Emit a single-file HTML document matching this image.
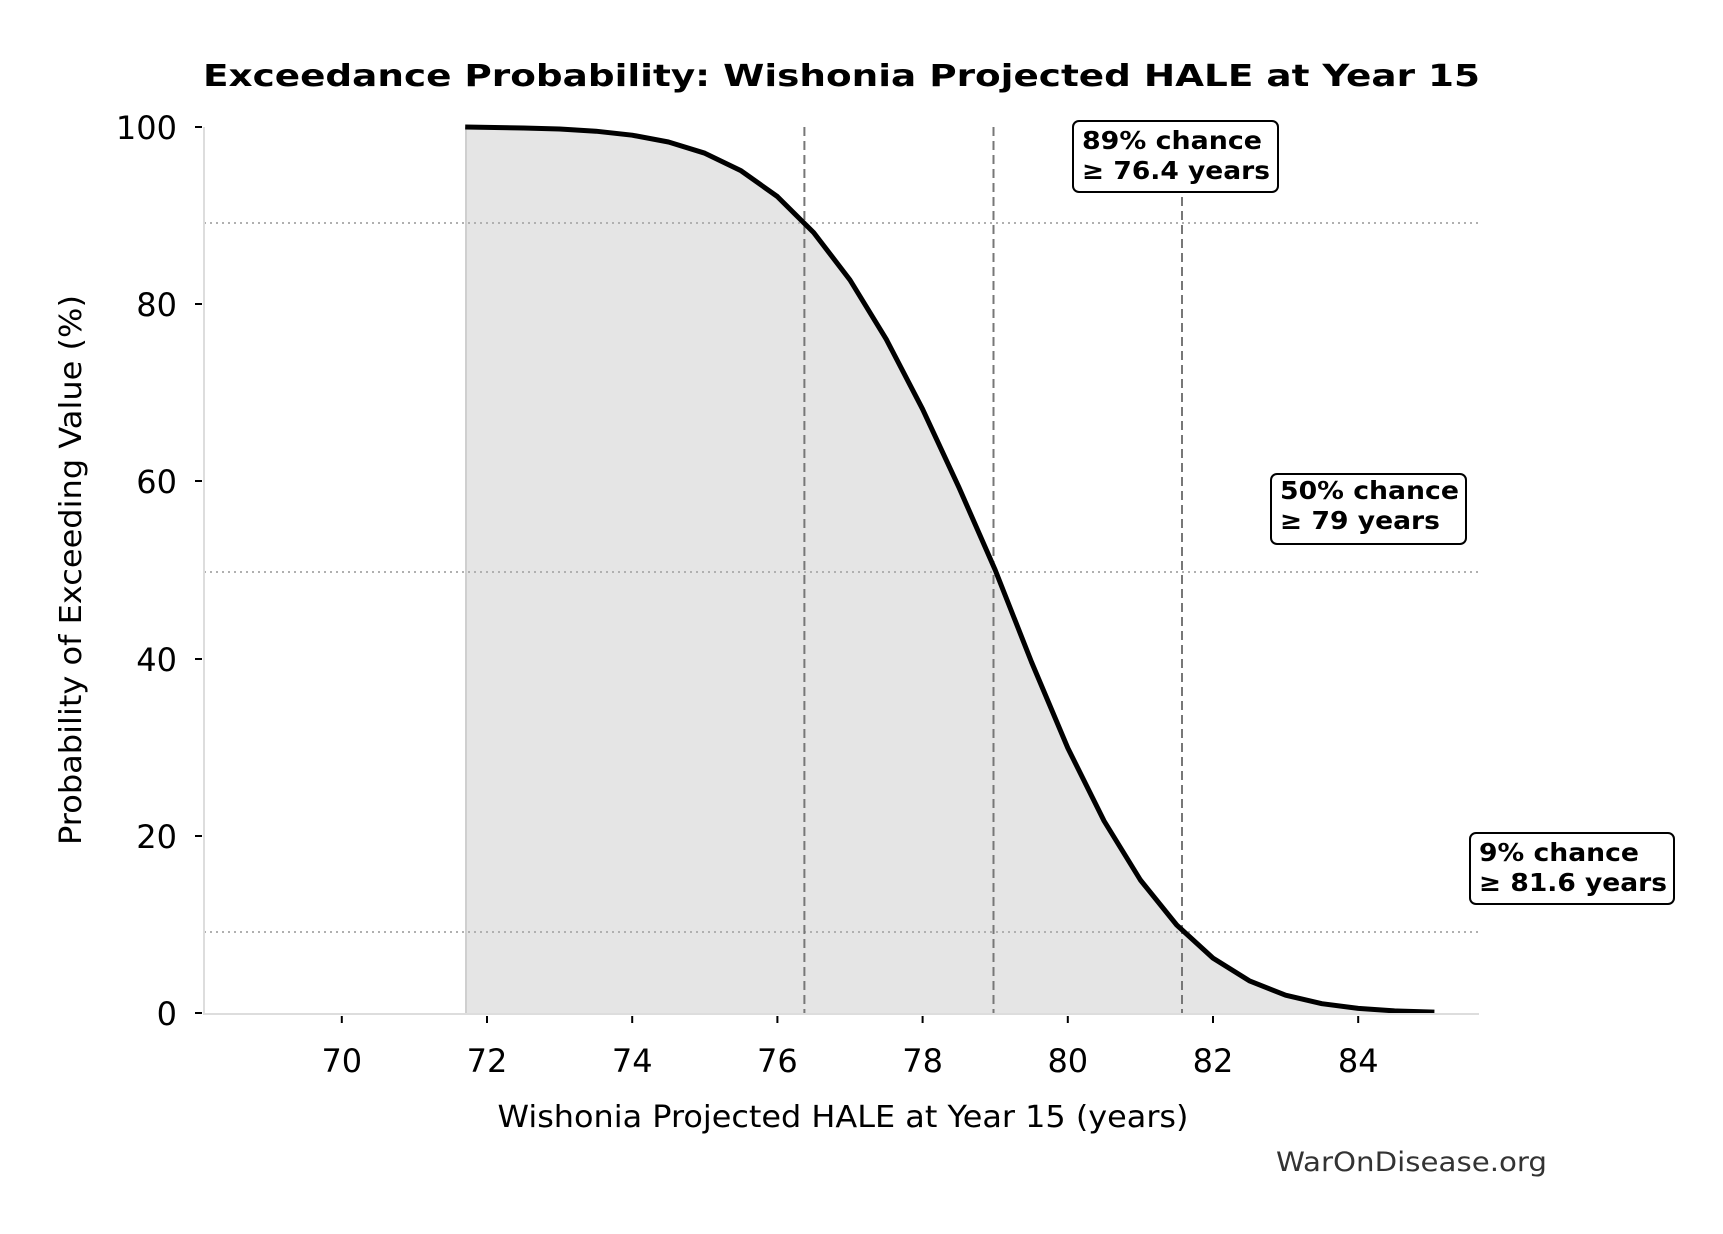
<!DOCTYPE html>
<html><head><meta charset="utf-8"><style>
html,body{margin:0;padding:0;background:#fff}
svg{display:block}
text{font-family:"DejaVu Sans","Liberation Sans",sans-serif}
</style></head><body>
<svg width="1723" height="1234" viewBox="0 0 1723 1234" xmlns="http://www.w3.org/2000/svg">
<rect width="1723" height="1234" fill="#fff"/>
<text x="841.5" y="86" text-anchor="middle" font-size="30" font-weight="bold" textLength="1277" lengthAdjust="spacingAndGlyphs">Exceedance Probability: Wishonia Projected HALE at Year 15</text>
<path d="M465.2,1013 L465.2,127 L523.3,128 L559.6,129 L595.9,131.2 L632.2,135.2 L668.5,142 L704.8,153.2 L741.1,170.8 L777.4,196.6 L813.7,232.6 L850,280 L886.3,339.3 L922.6,409.2 L958.9,487.3 L995.2,570 L1031.5,662 L1067.8,748 L1104.1,821 L1140.4,880 L1176.7,925 L1213,958.1 L1249.3,980.8 L1285.6,995.2 L1321.9,1003.7 L1358.2,1008.4 L1394.5,1010.9 L1434.4,1012.1 L1434.4,1013 Z" fill="#e5e5e5"/>
<line x1="466" y1="127" x2="466" y2="1013" stroke="#cfcfcf" stroke-width="2"/>
<g stroke="#b0b0b0" stroke-width="2" stroke-dasharray="2,4">
<line x1="204" y1="223" x2="1479" y2="223"/>
<line x1="204" y1="572" x2="1479" y2="572"/>
<line x1="204" y1="932" x2="1479" y2="932"/>
</g>
<g stroke="#777" stroke-width="2" stroke-dasharray="9,5">
<line x1="804.4" y1="127" x2="804.4" y2="1013"/>
<line x1="993.5" y1="127" x2="993.5" y2="1013"/>
<line x1="1182" y1="127" x2="1182" y2="1013"/>
</g>
<path d="M465.2,127 L523.3,128 L559.6,129 L595.9,131.2 L632.2,135.2 L668.5,142 L704.8,153.2 L741.1,170.8 L777.4,196.6 L813.7,232.6 L850,280 L886.3,339.3 L922.6,409.2 L958.9,487.3 L995.2,570 L1031.5,662 L1067.8,748 L1104.1,821 L1140.4,880 L1176.7,925 L1213,958.1 L1249.3,980.8 L1285.6,995.2 L1321.9,1003.7 L1358.2,1008.4 L1394.5,1010.9 L1434.4,1012.1" fill="none" stroke="#000" stroke-width="5" stroke-linejoin="round"/>
<line x1="204" y1="127" x2="204" y2="1014" stroke="#ddd" stroke-width="2"/>
<line x1="203" y1="1014" x2="1479" y2="1014" stroke="#ddd" stroke-width="2"/>
<g stroke="#000" stroke-width="2">
<line x1="195" y1="1013" x2="202" y2="1013"/><line x1="195" y1="836" x2="202" y2="836"/><line x1="195" y1="659" x2="202" y2="659"/><line x1="195" y1="481" x2="202" y2="481"/><line x1="195" y1="304" x2="202" y2="304"/><line x1="195" y1="127" x2="202" y2="127"/>
<line x1="341.8" y1="1016" x2="341.8" y2="1023"/><line x1="487" y1="1016" x2="487" y2="1023"/><line x1="632.2" y1="1016" x2="632.2" y2="1023"/><line x1="777.4" y1="1016" x2="777.4" y2="1023"/><line x1="922.6" y1="1016" x2="922.6" y2="1023"/><line x1="1067.8" y1="1016" x2="1067.8" y2="1023"/><line x1="1213" y1="1016" x2="1213" y2="1023"/><line x1="1358.2" y1="1016" x2="1358.2" y2="1023"/>
</g>
<g font-size="32" text-anchor="end" fill="#000">
<text x="177" y="1025">0</text><text x="177" y="848">20</text><text x="177" y="671">40</text><text x="177" y="493">60</text><text x="177" y="316">80</text><text x="177" y="139">100</text>
</g>
<g font-size="32" text-anchor="middle" fill="#000">
<text x="341.8" y="1072">70</text><text x="487" y="1072">72</text><text x="632.2" y="1072">74</text><text x="777.4" y="1072">76</text><text x="922.6" y="1072">78</text><text x="1067.8" y="1072">80</text><text x="1213" y="1072">82</text><text x="1358.2" y="1072">84</text>
</g>
<text x="843" y="1127" text-anchor="middle" font-size="30" textLength="691" lengthAdjust="spacingAndGlyphs">Wishonia Projected HALE at Year 15 (years)</text>
<text transform="translate(81,570) rotate(-90)" text-anchor="middle" font-size="30" textLength="550" lengthAdjust="spacingAndGlyphs">Probability of Exceeding Value (%)</text>
<text x="1276" y="1171" font-size="27" fill="#333" textLength="271" lengthAdjust="spacingAndGlyphs">WarOnDisease.org</text>
<g fill="#fff" stroke="#000" stroke-width="2">
<rect x="1073" y="121" width="205" height="71" rx="6"/>
<rect x="1271" y="474" width="195" height="70" rx="6"/>
<rect x="1470" y="833" width="204" height="71" rx="6"/>
</g>
<g font-size="25" font-weight="bold" fill="#000">
<text x="1082" y="149" textLength="180" lengthAdjust="spacingAndGlyphs">89% chance</text>
<text x="1082" y="179" textLength="188" lengthAdjust="spacingAndGlyphs">≥ 76.4 years</text>
<text x="1280" y="499" textLength="179" lengthAdjust="spacingAndGlyphs">50% chance</text>
<text x="1280" y="529" textLength="160" lengthAdjust="spacingAndGlyphs">≥ 79 years</text>
<text x="1479" y="861" textLength="160" lengthAdjust="spacingAndGlyphs">9% chance</text>
<text x="1479" y="891" textLength="188" lengthAdjust="spacingAndGlyphs">≥ 81.6 years</text>
</g>
</svg>
</body></html>
